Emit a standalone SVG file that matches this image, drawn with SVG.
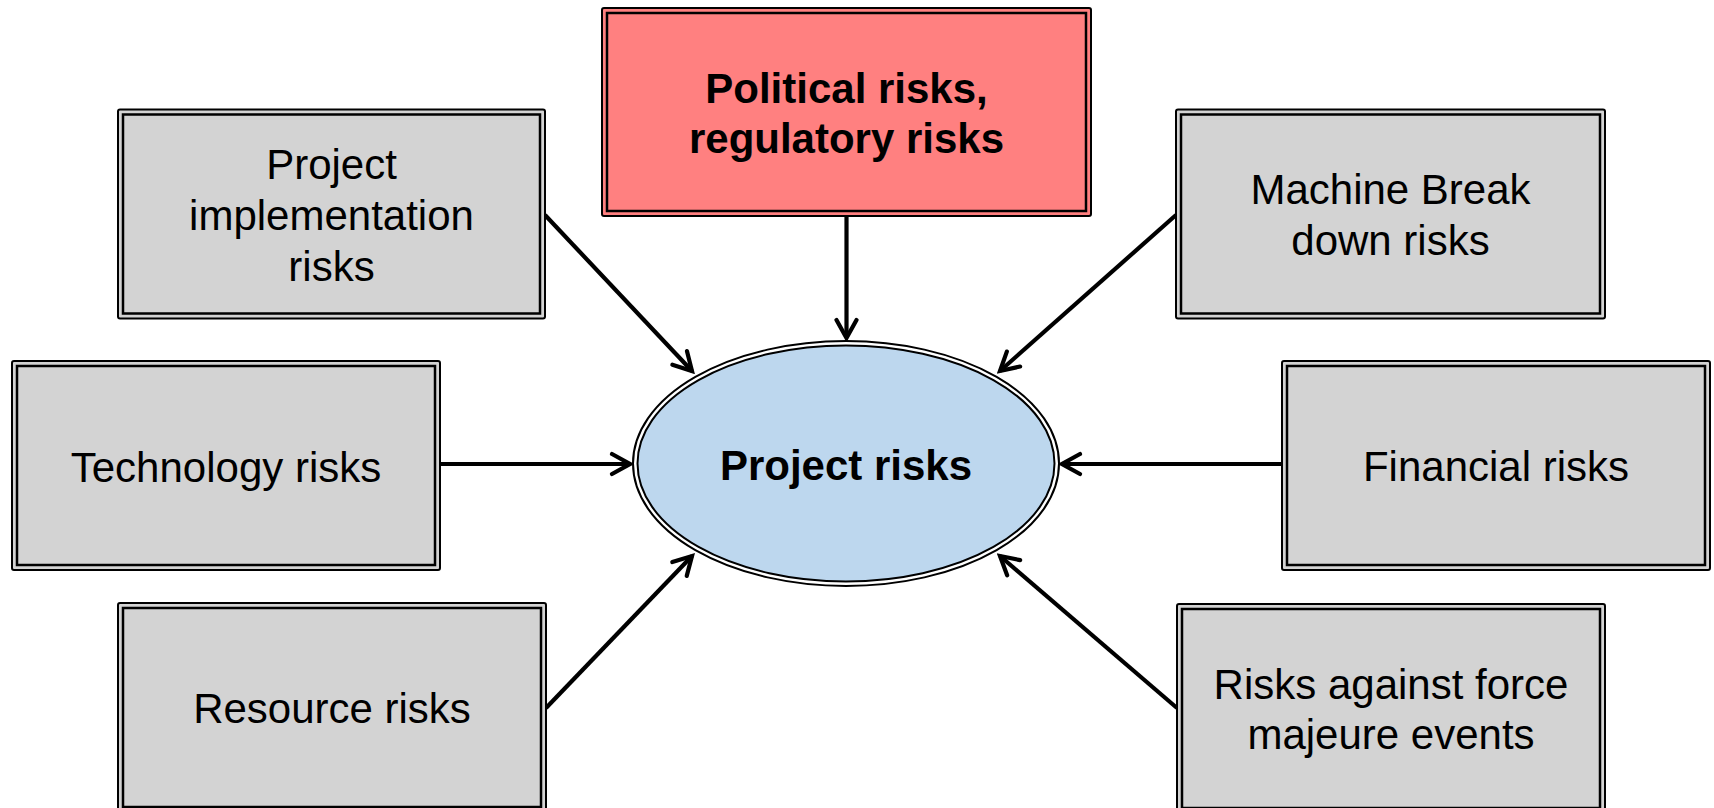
<svg xmlns="http://www.w3.org/2000/svg" width="1714" height="808" viewBox="0 0 1714 808">
<style>
.o{fill:#D3D3D3;stroke:#000;stroke-width:2}
.i{fill:#D3D3D3;stroke:#000;stroke-width:2.5}
.ro{fill:#FF8080;stroke:#000;stroke-width:2}
.ri{fill:#FF8080;stroke:#000;stroke-width:2.5}
.t{font-family:"Liberation Sans",Arial,sans-serif;font-size:42px;fill:#000;text-anchor:middle}
.b{font-weight:bold}
.c{stroke:#000;stroke-width:4.2;fill:none;marker-end:url(#ah)}
</style>
<defs>
<marker id="ah" markerUnits="userSpaceOnUse" viewBox="-24 -15 28 30" markerWidth="28" markerHeight="30" refX="0" refY="0" orient="auto">
<path d="M-18,-10 L0,0 L-18,10" fill="none" stroke="#000" stroke-width="4.2" stroke-linecap="round"/>
</marker>
</defs>
<rect width="1714" height="808" fill="#fff"/>
<g id="connectors">
<line class="c" x1="545" y1="215" x2="692" y2="371"/>
<line class="c" x1="846.5" y1="217" x2="846.5" y2="338"/>
<line class="c" x1="1176" y1="215" x2="1000" y2="371"/>
<line class="c" x1="440" y1="464" x2="630" y2="464"/>
<line class="c" x1="1282" y1="464" x2="1062" y2="464"/>
<line class="c" x1="546" y1="708" x2="692" y2="556"/>
<line class="c" x1="1177" y1="708" x2="1000" y2="556"/>
</g>
<g id="center">
<ellipse cx="846" cy="463.5" rx="213" ry="122.5" fill="#fff" stroke="#000" stroke-width="2"/>
<ellipse cx="846" cy="463.5" rx="208.5" ry="118" fill="#BDD7EE" stroke="#000" stroke-width="2"/>
<text class="t b" x="846" y="480">Project risks</text>
</g>
<g id="political">
<rect class="ro" x="602" y="8" width="489" height="208" rx="2"/>
<rect class="ri" x="607" y="13" width="479" height="198"/>
<text class="t b" x="846.5" y="103">Political risks,</text>
<text class="t b" x="846.5" y="153">regulatory risks</text>
</g>
<g id="implementation">
<rect class="o" x="118" y="109.5" width="427" height="209" rx="2"/>
<rect class="i" x="123" y="114.5" width="417" height="199"/>
<text class="t" x="331.5" y="179">Project</text>
<text class="t" x="331.5" y="230">implementation</text>
<text class="t" x="331.5" y="281">risks</text>
</g>
<g id="machine">
<rect class="o" x="1176" y="109.5" width="429" height="209" rx="2"/>
<rect class="i" x="1181" y="114.5" width="419" height="199"/>
<text class="t" x="1390.5" y="204">Machine Break</text>
<text class="t" x="1390.5" y="255">down risks</text>
</g>
<g id="technology">
<rect class="o" x="12" y="361" width="428" height="209" rx="2"/>
<rect class="i" x="17" y="366" width="418" height="199"/>
<text class="t" x="226" y="482">Technology risks</text>
</g>
<g id="financial">
<rect class="o" x="1282" y="361" width="428" height="209" rx="2"/>
<rect class="i" x="1287" y="366" width="418" height="199"/>
<text class="t" x="1496" y="481">Financial risks</text>
</g>
<g id="resource">
<rect class="o" x="118" y="603" width="428" height="209" rx="2"/>
<rect class="i" x="123" y="608" width="418" height="199"/>
<text class="t" x="332" y="723">Resource risks</text>
</g>
<g id="forcemajeure">
<rect class="o" x="1177" y="604" width="428" height="209" rx="2"/>
<rect class="i" x="1182" y="609" width="418" height="199"/>
<text class="t" x="1391" y="699">Risks against force</text>
<text class="t" x="1391" y="749">majeure events</text>
</g>
</svg>
